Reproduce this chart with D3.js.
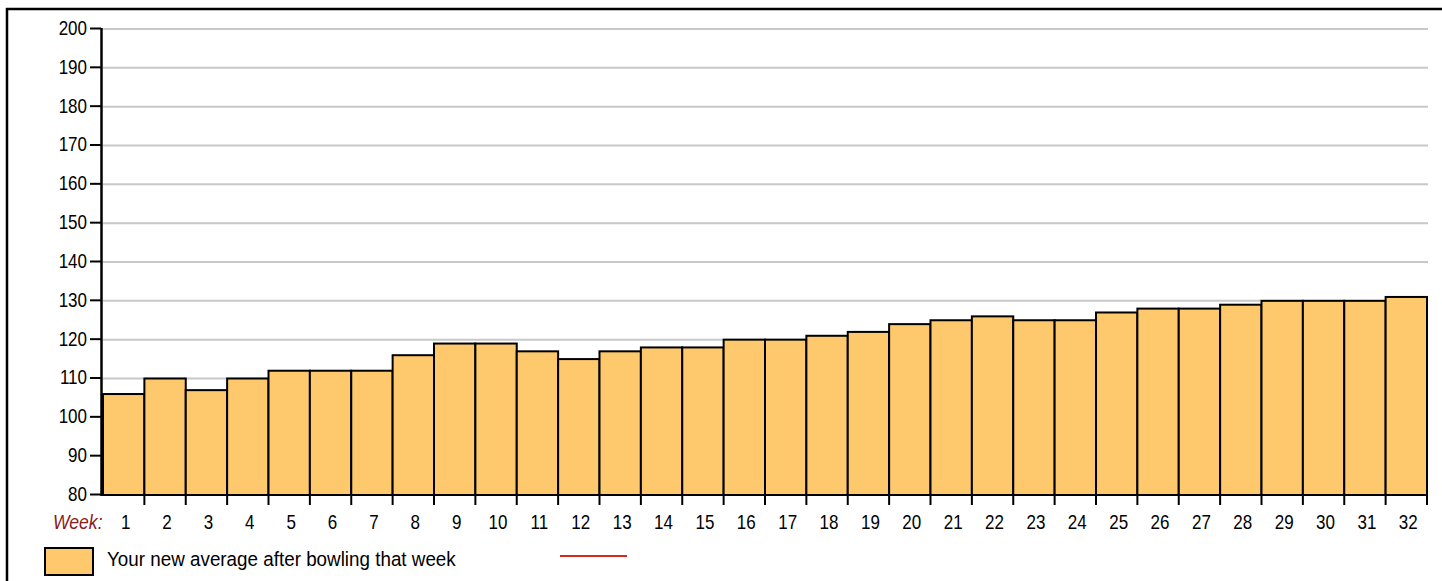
<!DOCTYPE html>
<html>
<head>
<meta charset="utf-8">
<script src="https://cdn.jsdelivr.net/npm/d3@7"></script>
<style>
  html, body { margin: 0; padding: 0; background: #fff; }
  svg { display: block; }
  text { font-family: "Liberation Sans Narrow", "Arial Narrow", "Liberation Sans", Arial, sans-serif; }
</style>
</head>
<body>
<svg id="chart" width="1442" height="581"></svg>
<script>
const weeks = d3.range(1, 33).map(String);
const averages = [106, 110, 107, 110, 112, 112, 112, 116, 119, 119, 117, 115, 117, 118, 118, 120,
                  120, 121, 122, 124, 125, 126, 125, 125, 127, 128, 128, 129, 130, 130, 130, 131];
const yTicks = [80, 90, 100, 110, 120, 130, 140, 150, 160, 170, 180, 190, 200];
const legendLabel = "Your new average after bowling that week";
const weekLabel = "Week:";

const svg = d3.select("#chart");
const W = 1442, H = 581;
const SX = 0.85; // horizontal condensing to mimic a narrow face

// frame (top and left edges)
svg.append("line").attr("x1", 6).attr("x2", W).attr("y1", 9).attr("y2", 9)
  .attr("stroke", "#000").attr("stroke-width", 2.5);
svg.append("line").attr("x1", 7).attr("x2", 7).attr("y1", 8).attr("y2", H)
  .attr("stroke", "#000").attr("stroke-width", 2.5);

const x = d3.scaleBand().domain(weeks).range([103, 1427]).paddingInner(0).paddingOuter(0);
const y = d3.scaleLinear().domain([80, 200]).range([495, 29]);

// gridlines
svg.append("g").selectAll("line").data(yTicks.filter(t => t > 80)).join("line")
  .attr("x1", 103).attr("x2", 1428)
  .attr("y1", d => y(d)).attr("y2", d => y(d))
  .attr("stroke", "#c8c8c8").attr("stroke-width", 2);

// bars
svg.append("g").selectAll("rect").data(averages).join("rect")
  .attr("x", (d, i) => x(weeks[i]))
  .attr("y", d => y(d))
  .attr("width", x.bandwidth())
  .attr("height", d => y(80) - y(d))
  .attr("fill", "#fec86c")
  .attr("stroke", "#000")
  .attr("stroke-width", 2);

// y axis
const yAxis = d3.axisLeft(y).tickValues(yTicks).tickSize(11).tickPadding(2).tickFormat(d3.format("d"));
const gy = svg.append("g").attr("transform", "translate(101,-1)").call(yAxis);
gy.select(".domain").remove();
gy.selectAll(".tick line").attr("stroke", "#000").attr("stroke-width", 2);
gy.selectAll(".tick text")
  .attr("font-size", 20).attr("fill", "#000")
  .attr("font-family", "'Liberation Sans', Arial, sans-serif")
  .attr("x", -14 / SX)
  .attr("transform", `scale(${SX},1)`);
svg.append("line").attr("x1", 101.5).attr("x2", 101.5).attr("y1", y(200) - 1).attr("y2", y(80) + 1)
  .attr("stroke", "#000").attr("stroke-width", 2.5);

// x ticks at bar boundaries
svg.append("g").selectAll("line").data(weeks).join("line")
  .attr("x1", d => x(d) + x.bandwidth()).attr("x2", d => x(d) + x.bandwidth())
  .attr("y1", y(80)).attr("y2", y(80) + 10)
  .attr("stroke", "#000").attr("stroke-width", 2);

// x labels
svg.append("g").selectAll("text").data(weeks).join("text")
  .attr("transform", d => `translate(${x(d) + x.bandwidth() / 2 + 2},529) scale(${SX},1)`)
  .attr("text-anchor", "middle")
  .attr("font-size", 20)
  .attr("fill", "#000")
  .text(d => d);

svg.append("text")
  .attr("transform", `translate(53,529) scale(0.88,1)`)
  .attr("font-size", 20).attr("font-style", "italic").attr("fill", "#8b1a1a")
  .text(weekLabel);

// legend
svg.append("rect").attr("x", 45).attr("y", 548).attr("width", 48).attr("height", 27)
  .attr("fill", "#fec86c").attr("stroke", "#000").attr("stroke-width", 2);
const lt = svg.append("text").attr("font-size", 19.5).attr("fill", "#000").text(legendLabel);
const natural = lt.node().getComputedTextLength();
const lsx = natural > 0 ? 349 / natural : 0.9;
lt.attr("transform", `translate(107,566) scale(${lsx},1)`);
svg.append("line").attr("x1", 560).attr("x2", 627).attr("y1", 556).attr("y2", 556)
  .attr("stroke", "#d42a1e").attr("stroke-width", 2);
</script>
</body>
</html>
